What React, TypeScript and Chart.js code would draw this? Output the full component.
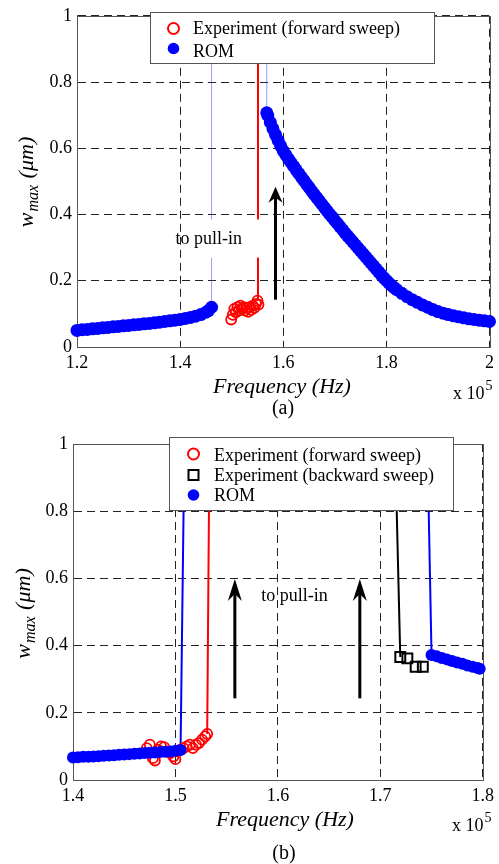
import React, { useEffect, useRef } from "react";
import { Chart, registerables } from "chart.js";
Chart.register(...registerables);

const FONT = "'Liberation Serif', 'Times New Roman', serif";

// ---------- Panel (a) data ----------
const xTicksA = [1.2, 1.4, 1.6, 1.8, 2];
const yTicks = [0, 0.2, 0.4, 0.6, 0.8, 1];

const romLowFreqA = [1.20, 1.21, 1.22, 1.23, 1.24, 1.25, 1.26, 1.27, 1.28, 1.29, 1.30, 1.31, 1.32, 1.33, 1.34, 1.35, 1.36, 1.37, 1.38, 1.39, 1.40, 1.41, 1.42, 1.43, 1.44, 1.45, 1.455, 1.461];
const romLowA = [0.050, 0.052, 0.053, 0.055, 0.056, 0.058, 0.059, 0.061, 0.062, 0.064, 0.065, 0.067, 0.068, 0.070, 0.071, 0.073, 0.075, 0.077, 0.079, 0.081, 0.083, 0.086, 0.089, 0.093, 0.098, 0.105, 0.110, 0.120];

const romHighFreqA = [1.568, 1.570, 1.575, 1.580, 1.585, 1.590, 1.595, 1.600, 1.605, 1.610, 1.615, 1.620, 1.625, 1.630, 1.635, 1.640, 1.645, 1.650, 1.655, 1.660, 1.665, 1.670, 1.675, 1.680, 1.685, 1.690, 1.695, 1.700, 1.705, 1.710, 1.715, 1.720, 1.725, 1.730, 1.735, 1.740, 1.745, 1.750, 1.755, 1.760, 1.765, 1.770, 1.775, 1.780, 1.785, 1.790, 1.795, 1.800, 1.805, 1.810, 1.815, 1.820, 1.830, 1.840, 1.850, 1.860, 1.870, 1.880, 1.890, 1.900, 1.910, 1.920, 1.930, 1.940, 1.950, 1.960, 1.970, 1.980, 1.990, 2.000];
const romHighA = [0.707, 0.699, 0.678, 0.659, 0.641, 0.624, 0.607, 0.592, 0.580, 0.568, 0.557, 0.546, 0.535, 0.524, 0.513, 0.503, 0.492, 0.482, 0.471, 0.461, 0.451, 0.441, 0.431, 0.421, 0.411, 0.401, 0.392, 0.382, 0.373, 0.363, 0.354, 0.344, 0.335, 0.326, 0.317, 0.308, 0.299, 0.290, 0.281, 0.272, 0.263, 0.254, 0.245, 0.236, 0.227, 0.218, 0.209, 0.201, 0.193, 0.186, 0.179, 0.173, 0.162, 0.152, 0.143, 0.135, 0.127, 0.120, 0.113, 0.107, 0.102, 0.098, 0.094, 0.091, 0.088, 0.085, 0.083, 0.081, 0.079, 0.077];

const expFwdFreqA = [1.499, 1.502, 1.505, 1.508, 1.511, 1.514, 1.517, 1.520, 1.523, 1.526, 1.529, 1.532, 1.535, 1.538, 1.541, 1.544, 1.547, 1.552, 1.550];
const expFwdA = [0.083, 0.097, 0.115, 0.105, 0.120, 0.110, 0.125, 0.115, 0.120, 0.110, 0.118, 0.106, 0.120, 0.112, 0.125, 0.118, 0.130, 0.128, 0.140];

// jumps to pull-in (a)
const jumpLowFreqA = [1.461, 1.461];
const jumpLowA = [0.120, 1.5];
const jumpHighFreqA = [1.568, 1.568];
const jumpHighA = [0.707, 1.5];
const jumpExpFreqA = [1.551, 1.551];
const jumpExpA = [0.140, 1.5];

// ---------- Panel (b) data ----------
const xTicksB = [1.4, 1.5, 1.6, 1.7, 1.8];

const romLowFreqB = [1.400, 1.405, 1.410, 1.415, 1.420, 1.425, 1.430, 1.435, 1.440, 1.445, 1.450, 1.455, 1.460, 1.465, 1.470, 1.475, 1.480, 1.485, 1.490, 1.495, 1.500, 1.505];
const romLowB = [0.067, 0.068, 0.069, 0.069, 0.070, 0.071, 0.072, 0.073, 0.074, 0.075, 0.076, 0.077, 0.078, 0.079, 0.080, 0.081, 0.082, 0.083, 0.084, 0.085, 0.087, 0.089];

const romHighFreqB = [1.750, 1.755, 1.760, 1.765, 1.770, 1.775, 1.780, 1.785, 1.790, 1.795, 1.797];
const romHighB = [0.372, 0.368, 0.363, 0.359, 0.354, 0.350, 0.346, 0.341, 0.337, 0.333, 0.331];

const expFwdFreqB = [1.472, 1.475, 1.478, 1.480, 1.483, 1.486, 1.489, 1.492, 1.495, 1.498, 1.500, 1.502, 1.505, 1.508, 1.511, 1.514, 1.517, 1.520, 1.523, 1.526, 1.529, 1.531];
const expFwdB = [0.095, 0.105, 0.065, 0.058, 0.090, 0.100, 0.098, 0.085, 0.080, 0.070, 0.062, 0.085, 0.090, 0.095, 0.100, 0.105, 0.095, 0.105, 0.110, 0.120, 0.130, 0.137];

const expBwdFreqB = [1.7195, 1.7264, 1.7345, 1.7415];
const expBwdB = [0.366, 0.362, 0.337, 0.337];

const jumpRomLowFreqB = [1.505, 1.510];
const jumpRomLowB = [0.089, 1.3];
const jumpExpFwdFreqB = [1.531, 1.534];
const jumpExpFwdB = [0.137, 1.3];
const jumpExpBwdFreqB = [1.7195, 1.712];
const jumpExpBwdB = [0.366, 1.3];
const jumpRomHighFreqB = [1.750, 1.744];
const jumpRomHighB = [0.372, 1.3];

const legendLabelsA = ["Experiment (forward sweep)", "ROM"];
const legendLabelsB = ["Experiment (forward sweep)", "Experiment (backward sweep)", "ROM"];

const BLUE = "#0000ff";
const RED = "#ff0000";

const pts = (xs: number[], ys: number[]) => xs.map((x, i) => ({ x, y: ys[i] }));
const fmt = (v: any) => String(parseFloat(Number(v).toFixed(1)));

type Marker = "circleOpen" | "dot" | "square";
type PanelCfg = {
  legend: { box: [number, number, number, number]; markerX: number; textX: number; rows: { my: number; by: number }[]; labels: string[]; markers: Marker[] };
  arrows: { x: number; y0: number; y1: number; head: number; notch: number; half: number }[];
  note: { x: number; y: number; mask?: [number, number, number, number] };
  xTitle: { x: number; y: number };
  yTitle: { x: number; y: number };
  expo: { x: number; y: number };
  caption: { text: string; x: number; y: number };
};

function drawMarker(ctx: CanvasRenderingContext2D, m: Marker, x: number, y: number) {
  ctx.save();
  if (m === "circleOpen") {
    ctx.strokeStyle = RED; ctx.lineWidth = 2;
    ctx.beginPath(); ctx.arc(x, y, 5.5, 0, Math.PI * 2); ctx.stroke();
  } else if (m === "dot") {
    ctx.fillStyle = BLUE;
    ctx.beginPath(); ctx.arc(x, y, 5.8, 0, Math.PI * 2); ctx.fill();
  } else {
    ctx.strokeStyle = "#000"; ctx.lineWidth = 2;
    ctx.strokeRect(x - 5, y - 5, 10, 10);
  }
  ctx.restore();
}

const panelPlugin = {
  id: "panel",
  beforeDatasetsDraw(chart: any, _a: any, cfg: PanelCfg) {
    const { ctx, chartArea: ca } = chart;
    ctx.save();
    ctx.strokeStyle = "#555"; ctx.lineWidth = 1;
    ctx.strokeRect(Math.round(ca.left) + 0.5, Math.round(ca.top) + 0.5, Math.round(ca.right - ca.left), Math.round(ca.bottom - ca.top));
    ctx.restore();
  },
  afterDatasetsDraw(chart: any, _a: any, cfg: PanelCfg) {
    const { ctx } = chart;
    const xs = chart.scales.x, ys = chart.scales.y;
    ctx.save();
    if (cfg.note.mask) {
      const [x0, x1, y0, y1] = cfg.note.mask;
      const px0 = xs.getPixelForValue(x0), px1 = xs.getPixelForValue(x1);
      const py0 = ys.getPixelForValue(y1), py1 = ys.getPixelForValue(y0);
      ctx.fillStyle = "#fff";
      ctx.fillRect(px0, py0, px1 - px0, py1 - py0);
    }
    ctx.fillStyle = "#000";
    ctx.font = `18px ${FONT}`;
    ctx.textAlign = "center"; ctx.textBaseline = "middle";
    ctx.fillText("to pull-in", xs.getPixelForValue(cfg.note.x), ys.getPixelForValue(cfg.note.y));
    for (const a of cfg.arrows) {
      const px = xs.getPixelForValue(a.x);
      const pb = ys.getPixelForValue(a.y0);
      const pt = ys.getPixelForValue(a.y1);
      ctx.strokeStyle = "#000"; ctx.lineWidth = 3;
      ctx.beginPath(); ctx.moveTo(px, pb); ctx.lineTo(px, pt + a.notch); ctx.stroke();
      ctx.beginPath();
      ctx.moveTo(px, pt);
      ctx.lineTo(px - a.half, pt + a.head);
      ctx.lineTo(px, pt + a.notch);
      ctx.lineTo(px + a.half, pt + a.head);
      ctx.closePath();
      ctx.fillStyle = "#000"; ctx.fill();
    }
    ctx.restore();
  },
  afterDraw(chart: any, _a: any, cfg: PanelCfg) {
    const { ctx } = chart;
    ctx.save();
    // legend
    const L = cfg.legend;
    const [bx0, by0, bx1, by1] = L.box;
    ctx.fillStyle = "#fff";
    ctx.fillRect(bx0, by0, bx1 - bx0, by1 - by0);
    ctx.strokeStyle = "#555"; ctx.lineWidth = 1;
    ctx.strokeRect(bx0 + 0.5, by0 + 0.5, bx1 - bx0, by1 - by0);
    ctx.font = `18px ${FONT}`;
    ctx.textAlign = "left"; ctx.textBaseline = "alphabetic"; ctx.fillStyle = "#000";
    L.labels.forEach((lab, i) => {
      drawMarker(ctx, L.markers[i], L.markerX, L.rows[i].my);
      ctx.fillStyle = "#000";
      ctx.fillText(lab, L.textX, L.rows[i].by);
    });
    // x title
    ctx.font = `italic 22px ${FONT}`;
    ctx.textAlign = "center";
    ctx.fillText("Frequency (Hz)", cfg.xTitle.x, cfg.xTitle.y);
    // exponent
    ctx.textAlign = "left";
    ctx.font = `18px ${FONT}`;
    const w10 = ctx.measureText("x 10").width;
    ctx.fillText("x 10", cfg.expo.x, cfg.expo.y);
    ctx.font = `14px ${FONT}`;
    ctx.fillText("5", cfg.expo.x + w10 + 1, cfg.expo.y - 9);
    // caption
    ctx.font = `20px ${FONT}`;
    ctx.textAlign = "center";
    ctx.fillText(cfg.caption.text, cfg.caption.x, cfg.caption.y);
    // y title
    const main = `italic 22px ${FONT}`, sub = `italic 16px ${FONT}`;
    ctx.font = main;
    const w1 = ctx.measureText("w").width;
    const w3 = ctx.measureText(" (\u03bcm)").width;
    ctx.font = sub;
    const w2 = ctx.measureText("max").width;
    const total = w1 + w2 + w3 + 2;
    ctx.translate(cfg.yTitle.x, cfg.yTitle.y);
    ctx.rotate(-Math.PI / 2);
    ctx.textAlign = "left";
    let x = -total / 2;
    ctx.font = main; ctx.fillText("w", x, 0); x += w1 + 1;
    ctx.font = sub; ctx.fillText("max", x, 5); x += w2 + 1;
    ctx.font = main; ctx.fillText(" (\u03bcm)", x, 0);
    ctx.restore();
  },
};

function scaleOpts(min: number, max: number, ticks: number[], size: number, horizontal: boolean) {
  return {
    type: "linear",
    min, max,
    afterBuildTicks: (s: any) => { s.ticks = ticks.map((v) => ({ value: v })); },
    afterFit: (s: any) => { if (horizontal) s.height = size; else s.width = size; },
    grid: { color: "#222", lineWidth: 1, drawTicks: false },
    border: { display: true, color: "#555", width: 1, dash: [8, 5] },
    ticks: { padding: 5, color: "#000", font: { family: FONT, size: 18 }, callback: fmt, maxRotation: 0, autoSkip: false },
  };
}

const romDs = (data: any[], r: number) => ({ data, showLine: false, pointRadius: r, pointBackgroundColor: BLUE, pointBorderWidth: 0, pointBorderColor: BLUE, clip: false });
const expDs = (data: any[]) => ({ data, showLine: false, pointRadius: 5, pointStyle: "circle", pointBackgroundColor: "rgba(0,0,0,0)", pointBorderColor: RED, pointBorderWidth: 1.8, clip: false });
const lineDs = (data: any[], color: string, w: number) => ({ data, showLine: true, pointRadius: 0, borderColor: color, borderWidth: w, fill: false });

function Panel(props: { w: number; h: number; make: () => any }) {
  const ref = useRef<HTMLCanvasElement>(null);
  useEffect(() => {
    if (!ref.current) return;
    const chart = new Chart(ref.current, props.make());
    return () => chart.destroy();
  }, []);
  return <canvas ref={ref} width={props.w} height={props.h} style={{ display: "block", width: props.w, height: props.h }} />;
}

function makeA() {
  const cfg: PanelCfg = {
    legend: { box: [150, 12, 434, 63], markerX: 173.5, textX: 193, rows: [{ my: 28.5, by: 34 }, { my: 48.5, by: 57 }], labels: legendLabelsA, markers: ["circleOpen", "dot"] },
    arrows: [{ x: 1.585, y0: 0.143, y1: 0.484, head: 16, notch: 11, half: 7 }],
    note: { x: 1.4555, y: 0.325, mask: [1.455, 1.562, 0.27, 0.385] },
    xTitle: { x: 282, y: 393 },
    yTitle: { x: 33, y: 182 },
    expo: { x: 453, y: 399 },
    caption: { text: "(a)", x: 283, y: 414 },
  };
  return {
    type: "scatter",
    data: {
      datasets: [
        romDs(pts(romLowFreqA, romLowA), 6.5),
        romDs(pts(romHighFreqA, romHighA), 6.5),
        expDs(pts(expFwdFreqA, expFwdA)),
        lineDs(pts(jumpLowFreqA, jumpLowA), "rgba(70,70,255,0.55)", 1),
        lineDs(pts(jumpHighFreqA, jumpHighA), "rgba(70,70,255,0.55)", 1),
        lineDs(pts(jumpExpFreqA, jumpExpA), RED, 2),
      ],
    },
    options: {
      animation: false, responsive: false, devicePixelRatio: 1, events: [],
      layout: { autoPadding: false, padding: { left: 0, top: 12, right: 8, bottom: 0 } },
      plugins: { legend: { display: false }, tooltip: { enabled: false }, panel: cfg },
      scales: { x: scaleOpts(1.2, 2, xTicksA, 73, true), y: scaleOpts(0, 1, yTicks, 77, false) },
    },
    plugins: [panelPlugin],
  };
}

function makeB() {
  const cfg: PanelCfg = {
    legend: { box: [169, 17, 453, 90], markerX: 193.5, textX: 214, rows: [{ my: 34, by: 40.5 }, { my: 55, by: 60.5 }, { my: 75, by: 81 }], labels: legendLabelsB, markers: ["circleOpen", "square", "dot"] },
    arrows: [
      { x: 1.558, y0: 0.243, y1: 0.598, head: 22, notch: 15, half: 7 },
      { x: 1.680, y0: 0.243, y1: 0.598, head: 22, notch: 15, half: 7 },
    ],
    note: { x: 1.6163, y: 0.5455 },
    xTitle: { x: 285, y: 406 },
    yTitle: { x: 30, y: 193.5 },
    expo: { x: 452, y: 411 },
    caption: { text: "(b)", x: 284, y: 439 },
  };
  return {
    type: "scatter",
    data: {
      datasets: [
        romDs(pts(romLowFreqB, romLowB), 6),
        romDs(pts(romHighFreqB, romHighB), 6),
        expDs(pts(expFwdFreqB, expFwdB)),
        { data: pts(expBwdFreqB, expBwdB), showLine: false, pointRadius: 7, pointStyle: "rect", pointBackgroundColor: "rgba(0,0,0,0)", pointBorderColor: "#000", pointBorderWidth: 2, clip: false },
        lineDs(pts(jumpRomLowFreqB, jumpRomLowB), BLUE, 2),
        lineDs(pts(jumpExpFwdFreqB, jumpExpFwdB), RED, 2),
        lineDs(pts(jumpExpBwdFreqB, jumpExpBwdB), "#000", 2),
        lineDs(pts(jumpRomHighFreqB, jumpRomHighB), BLUE, 2),
      ],
    },
    options: {
      animation: false, responsive: false, devicePixelRatio: 1, events: [],
      layout: { autoPadding: false, padding: { left: 0, top: 24, right: 9, bottom: 0 } },
      plugins: { legend: { display: false }, tooltip: { enabled: false }, panel: cfg },
      scales: { x: scaleOpts(1.4, 1.8, xTicksB, 84, true), y: scaleOpts(0, 1, yTicks, 73, false) },
    },
    plugins: [panelPlugin],
  };
}

export default function App() {
  return (
    <div style={{ position: "absolute", left: 0, top: 0, width: 499, height: 864, background: "#fff" }}>
      <Panel w={499} h={420} make={makeA} />
      <Panel w={499} h={444} make={makeB} />
    </div>
  );
}
